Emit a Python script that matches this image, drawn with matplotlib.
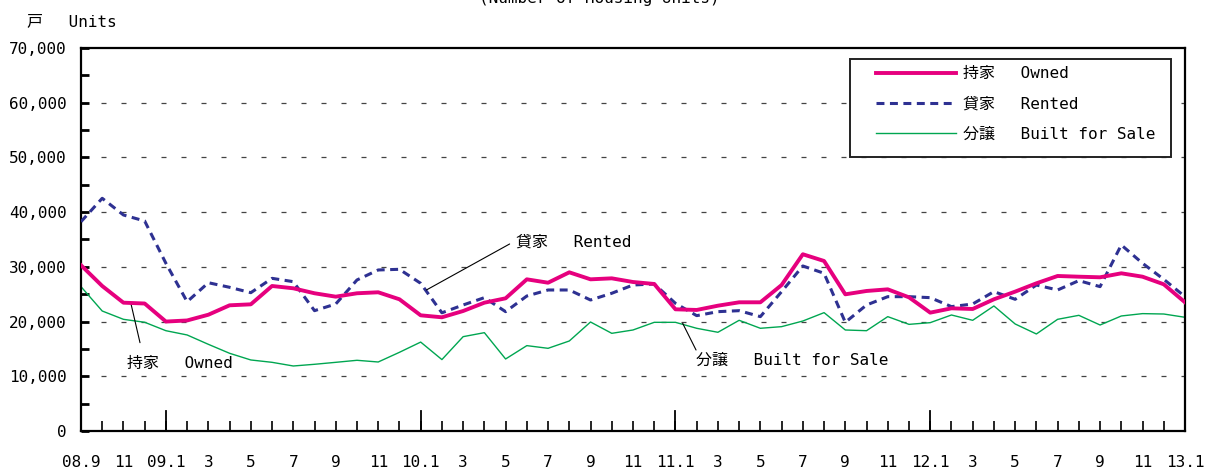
import matplotlib
matplotlib.use("Agg")
import matplotlib.pyplot as plt
from matplotlib.ticker import MultipleLocator, FixedLocator
from matplotlib.patches import Rectangle

plt.rcParams["font.family"] = ["DejaVu Sans Mono", "Noto Sans CJK JP"]

# monthly, 2008.9 .. 2013.1
months = list(range(53))
tick_labels = ["08.9", "11", "09.1", "3", "5", "7", "9", "11", "10.1", "3", "5", "7", "9",
               "11", "11.1", "3", "5", "7", "9", "11", "12.1", "3", "5", "7", "9", "11", "13.1"]

owned = [30300, 26500, 23450, 23300, 20000, 20200, 21250, 22970, 23150, 26500,
         26080, 25170, 24550, 25170, 25350, 24070, 21140, 20780, 21930, 23450,
         24250, 27720, 27100, 29000, 27720, 27900, 27230, 26870, 22240, 22120,
         22900, 23520, 23520, 26680, 32300, 31070, 24980, 25590, 25890, 24430,
         21630, 22420, 22300, 24070, 25470, 26990, 28330, 28200, 28090, 28820,
         28200, 26810, 23520]

rented = [38250, 42530, 39480, 38380, 30650, 23630, 27100, 26260, 25280, 27900,
          27290, 21990, 23210, 27600, 29430, 29550, 26990, 21600, 23030, 24370,
          21810, 24670, 25770, 25770, 23940, 25170, 26680, 26870, 23330, 21080,
          21810, 21990, 20900, 25470, 30160, 28820, 19860, 23030, 24550, 24550,
          24370, 22730, 23210, 25470, 24070, 26680, 25770, 27480, 26380, 34000,
          30650, 27720, 24550]

for_sale = [26380, 21930, 20410, 19870, 18330, 17550, 15840, 14200, 12980, 12550,
            11880, 12190, 12550, 12920, 12610, 14380, 16250, 13050, 17240, 17970,
            13160, 15600, 15110, 16450, 19920, 17850, 18460, 19860, 19860, 18770,
            18040, 20230, 18770, 19070, 20100, 21630, 18460, 18330, 20900, 19490,
            19800, 21200, 20230, 22850, 19560, 17730, 20410, 21140, 19370, 21020,
            21450, 21380, 20780]

FS = 11.5

fig = plt.figure(figsize=(12.05, 4.70), dpi=100)
ax = fig.add_axes([0.0672, 0.0830, 0.9162, 0.8149])

ax.plot(months, owned, color="#e6007e", linewidth=2.8, label="持家\u3000 Owned", zorder=4)
ax.plot(months, rented, color="#2e3192", linewidth=2.2, dashes=(2.6, 1.8),
        label="貸家\u3000 Rented", zorder=3)
ax.plot(months, for_sale, color="#00a651", linewidth=1.0, label="分譲\u3000 Built for Sale", zorder=2)

ax.set_xlim(0, 52)
ax.set_ylim(0, 70000)

# y axis
ax.yaxis.set_major_locator(MultipleLocator(10000))
ax.yaxis.set_minor_locator(MultipleLocator(5000))
ax.set_yticklabels([f"{int(v):,}" for v in ax.get_yticks()], fontsize=FS)
ax.tick_params(axis="y", which="both", direction="in", length=6, width=2, pad=10)
for v in range(10000, 70000, 10000):
    ax.axhline(v, color="#444444", linewidth=0.9, dashes=(4, 12), zorder=1)

# x axis: a tick every month, label every other month
ax.xaxis.set_major_locator(FixedLocator(months))
labels = []
k = 0
for m in months:
    if m % 2 == 0:
        labels.append(tick_labels[k])
        k += 1
    else:
        labels.append("")
ax.set_xticklabels(labels, fontsize=FS)
ax.tick_params(axis="x", which="major", direction="in", length=7, width=1.2, pad=17)
for m in months:
    if (m + 8) % 12 == 0:
        ax.plot([m, m], [0, 3700], color="black", linewidth=1.3, clip_on=False, zorder=5)

for s in ax.spines.values():
    s.set_linewidth(1.6)

# legend box drawn by hand
ax.add_patch(Rectangle((0.6966, 0.7154), 0.2907, 0.2559, transform=ax.transAxes,
                       facecolor="white", edgecolor="#222222", linewidth=1.4, zorder=6))
leg = ax.legend(loc="upper left", bbox_to_anchor=(0.7201, 0.952), fontsize=FS,
                frameon=False, handlelength=5.0, borderpad=0, borderaxespad=0,
                labelspacing=0.95, handletextpad=0.45)
leg.set_zorder(7)

# callouts
line_kw = dict(arrowstyle="-", color="black", linewidth=0.8, shrinkA=0, shrinkB=0)
ax.annotate("", xy=(2.35, 23340), xytext=(2.78, 16140), arrowprops=line_kw)
ax.text(2.15, 12370, "持家\u3000 Owned", fontsize=FS, va="center")
ax.annotate("", xy=(16.27, 25770), xytext=(20.19, 34180), arrowprops=line_kw)
ax.text(20.5, 34540, "貸家\u3000 Rented", fontsize=FS, va="center")
ax.annotate("", xy=(28.34, 19680), xytext=(28.97, 14800), arrowprops=line_kw)
ax.text(28.97, 12980, "分譲\u3000 Built for Sale", fontsize=FS, va="center")

fig.text(0.022, 0.955, "戸\u3000 Units", fontsize=FS, va="center")
fig.text(0.497, 1.003, "(Number of Housing Units)", fontsize=FS, ha="center", va="center")

fig.savefig("out.png", dpi=100)
